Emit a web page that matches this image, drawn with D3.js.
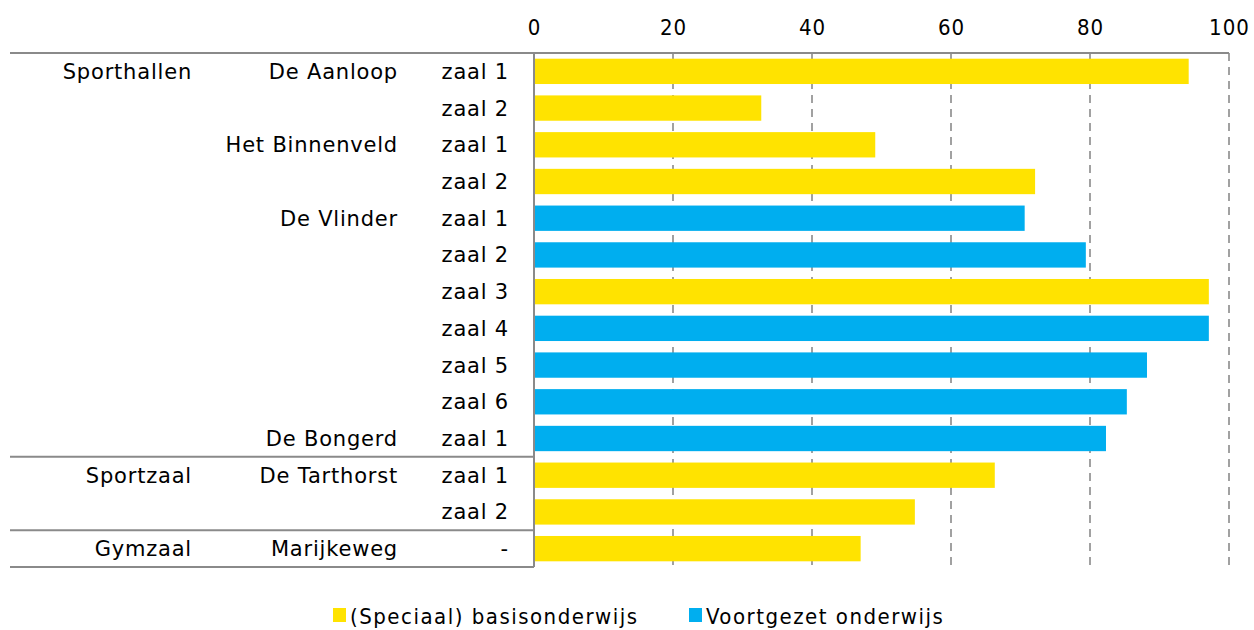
<!DOCTYPE html>
<html>
<head>
<meta charset="utf-8">
<script src="https://cdn.jsdelivr.net/npm/d3@7"></script>
<style>
  body { margin: 0; background: #fff; }
  text { font-family: "DejaVu Sans", sans-serif; fill: #000; }
</style>
</head>
<body>
<svg id="chart" width="1254" height="630"></svg>
<script>
// chart data
var groups = ["Sporthallen", "", "", "", "", "", "", "", "", "", "", "Sportzaal", "", "Gymzaal"];
var locations = ["De Aanloop", "", "Het Binnenveld", "", "De Vlinder", "", "", "", "", "", "De Bongerd", "De Tarthorst", "", "Marijkeweg"];
var halls = ["zaal 1", "zaal 2", "zaal 1", "zaal 2", "zaal 1", "zaal 2", "zaal 3", "zaal 4", "zaal 5", "zaal 6", "zaal 1", "zaal 1", "zaal 2", "-"];
var values = [94.2, 32.7, 49.1, 72.1, 70.6, 79.4, 97.1, 97.1, 88.2, 85.3, 82.3, 66.3, 54.8, 47.0];
var types = ["basis", "basis", "basis", "basis", "vo", "vo", "basis", "vo", "vo", "vo", "vo", "basis", "basis", "basis"];
var groupBreaks = [11, 13]; // rows that start a new group
var xTicks = [0, 20, 40, 60, 80, 100];
var seriesKeys = ["basis", "vo"];
var seriesNames = ["(Speciaal) basisonderwijs", "Voortgezet onderwijs"];

var colors = { basis: "#FFE300", vo: "#00AEEF" };

var svg = d3.select("#chart");
var plotTop = 53, plotBottom = 567, plotLeft = 534, plotRight = 1229, frameLeft = 10;

var rows = d3.range(values.length);
var x = d3.scaleLinear().domain([0, 100]).range([plotLeft, plotRight]);
var y = d3.scaleBand().domain(rows).range([plotTop, plotBottom]).paddingInner(0.31).paddingOuter(0.155);

// gridlines
svg.append("g").selectAll("line")
  .data(xTicks.filter(function(d) { return d > 0; }))
  .enter().append("line")
  .attr("x1", function(d) { return x(d); })
  .attr("x2", function(d) { return x(d); })
  .attr("y1", plotTop).attr("y2", plotBottom)
  .attr("stroke", "#8a8a8a").attr("stroke-width", 1.6)
  .attr("stroke-dasharray", "8,6");

// top axis labels
var axis = d3.axisTop(x).tickValues(xTicks).tickSize(0).tickPadding(0);
var ax = svg.append("g").attr("transform", "translate(0,35)").call(axis);
ax.select(".domain").remove();
ax.selectAll("text")
  .attr("dy", 0)
  .style("font-family", "'DejaVu Sans Condensed', 'DejaVu Sans', sans-serif")
  .style("font-size", "22px")
  .style("letter-spacing", "1px")
  .style("fill", "#000");

// bars
svg.append("g").selectAll("rect")
  .data(rows)
  .enter().append("rect")
  .attr("x", x(0) + 1)
  .attr("y", function(i) { return y(i); })
  .attr("width", function(i) { return x(values[i]) - x(0) - 1; })
  .attr("height", y.bandwidth())
  .attr("fill", function(i) { return colors[types[i]]; });

// frame lines
var frame = svg.append("g").attr("stroke", "#8a8a8a").attr("stroke-width", 2);
frame.append("line").attr("x1", frameLeft).attr("x2", plotRight).attr("y1", plotTop).attr("y2", plotTop);
frame.append("line").attr("x1", plotLeft).attr("x2", plotLeft).attr("y1", plotTop).attr("y2", plotBottom);
frame.append("line").attr("x1", frameLeft).attr("x2", plotLeft).attr("y1", plotBottom).attr("y2", plotBottom);
var step = y.step();
groupBreaks.forEach(function(r) {
  var yy = plotTop + step * r;
  frame.append("line").attr("x1", frameLeft).attr("x2", plotLeft).attr("y1", yy).attr("y2", yy);
});

// category labels
function rowLabels(arr, xPos) {
  svg.append("g").selectAll("text")
    .data(rows.filter(function(i) { return arr[i] !== ""; }))
    .enter().append("text")
    .attr("x", xPos)
    .attr("y", function(i) { return y(i) + y.bandwidth() / 2; })
    .attr("dy", "0.36em")
    .attr("text-anchor", "end")
    .style("font-size", "21px")
    .style("letter-spacing", "0.8px")
    .text(function(i) { return arr[i]; });
}
rowLabels(halls, 509);
rowLabels(locations, 398);
rowLabels(groups, 192);

// legend
var legend = svg.append("g").attr("transform", "translate(0,616)");
var legendX = [333, 689];
seriesKeys.forEach(function(k, i) {
  legend.append("rect")
    .attr("x", legendX[i]).attr("y", -8)
    .attr("width", 13).attr("height", 14)
    .attr("fill", colors[k]);
  legend.append("text")
    .attr("x", legendX[i] + 17).attr("y", 0)
    .attr("dy", "0.36em")
    .style("font-family", "'DejaVu Sans Condensed', 'DejaVu Sans', sans-serif")
    .style("font-size", "22px")
    .style("letter-spacing", "1.5px")
    .text(seriesNames[i]);
});
</script>
</body>
</html>
